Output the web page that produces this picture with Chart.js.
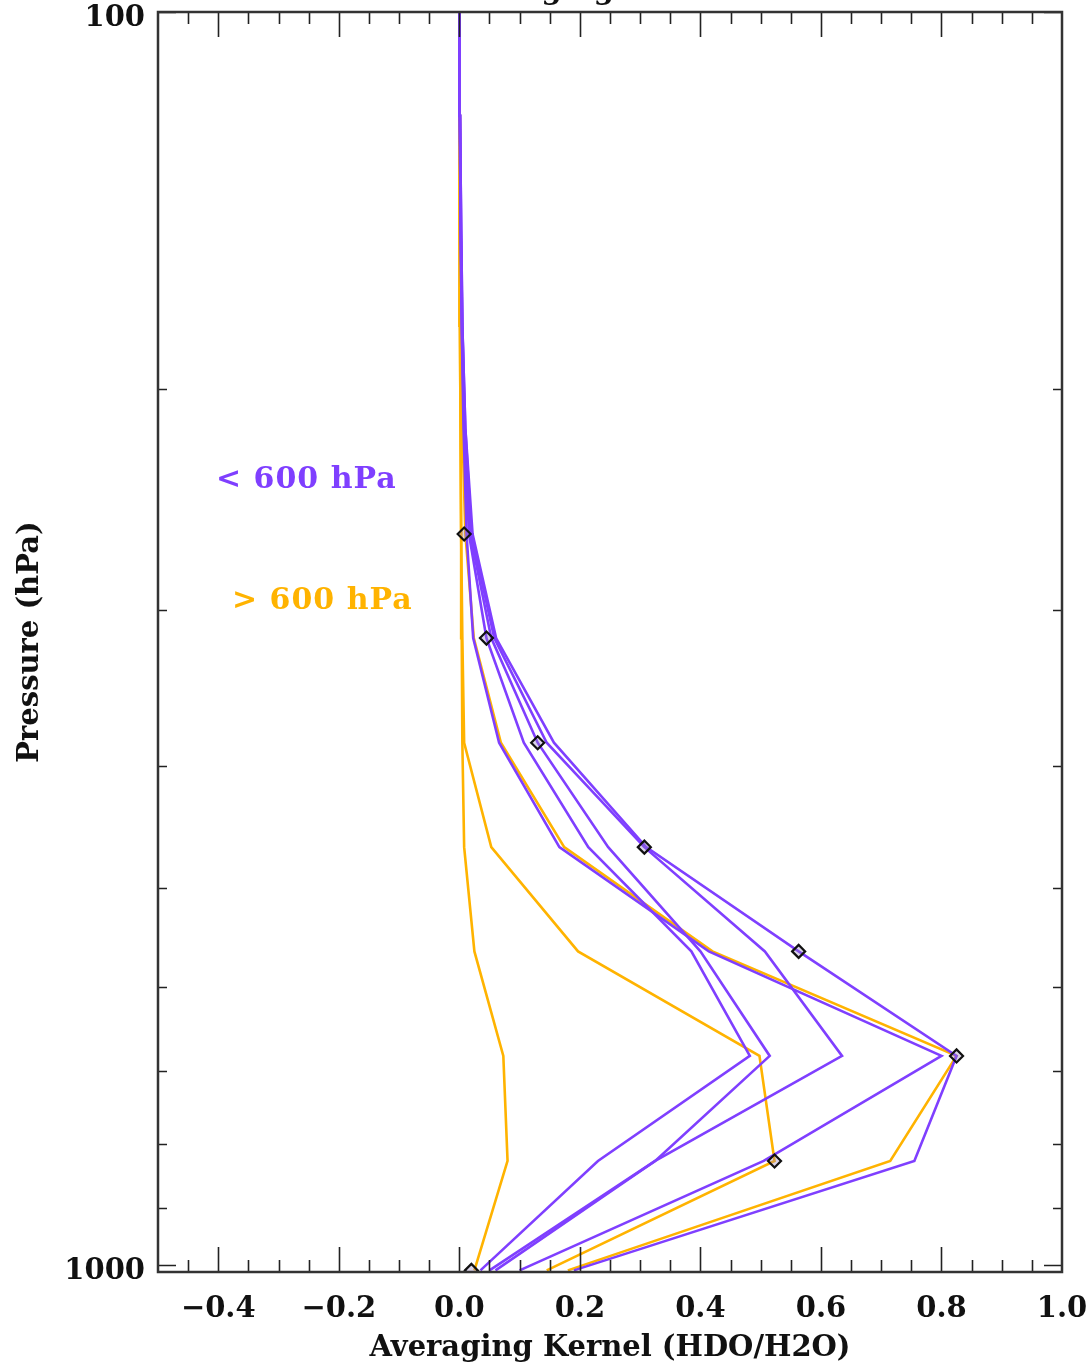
<!DOCTYPE html>
<html>
<head>
<meta charset="utf-8">
<script src="https://cdn.jsdelivr.net/npm/chart.js@4"></script>
<style>
  html, body { margin: 0; padding: 0; background: #fff; }
  canvas { display: block; }
</style>
</head>
<body>
<canvas id="chart" width="1092" height="1371"></canvas>
<script>
// pressure levels of the retrieval grid (hPa), surface first
const levels = [1010, 826, 681, 562, 464, 383, 316, 261, 215, 178, 147, 121, 100];

// kernels for levels above 600 hPa (purple)
const purpleA = [0.100, 0.505, 0.800, 0.414, 0.166, 0.066, 0.023, 0.012, 0.007, 0.004, 0.002, 0.001, 0.0];
const purpleB = [0.035, 0.230, 0.482, 0.385, 0.214, 0.107, 0.045, 0.016, 0.008, 0.004, 0.002, 0.001, 0.0];
const purpleC = [0.050, 0.325, 0.515, 0.400, 0.247, 0.130, 0.053, 0.018, 0.009, 0.005, 0.002, 0.001, 0.0];
const purpleD = [0.060, 0.325, 0.635, 0.507, 0.307, 0.145, 0.058, 0.020, 0.010, 0.005, 0.003, 0.001, 0.0];
const purpleE = [0.190, 0.755, 0.825, 0.563, 0.310, 0.157, 0.061, 0.022, 0.010, 0.005, 0.003, 0.001, 0.0];

// kernels for levels below 600 hPa (orange)
const orangeA = [0.025, 0.080, 0.073, 0.025, 0.008, 0.005, 0.004, 0.003, 0.002, 0.001, 0.001, 0.0, 0.0];
const orangeB = [0.145, 0.523, 0.498, 0.197, 0.053, 0.008, 0.005, 0.003, 0.002, 0.001, 0.001, 0.0, 0.0];
const orangeC = [0.180, 0.715, 0.825, 0.420, 0.174, 0.069, 0.024, 0.010, 0.005, 0.003, 0.002, 0.001, 0.0];

// diagonal elements (diamonds), levels[0..7]
const diagonal = [0.020, 0.523, 0.825, 0.563, 0.307, 0.130, 0.045, 0.008];

const xTickValues = [-0.4, -0.2, 0.0, 0.2, 0.4, 0.6, 0.8, 1.0];
const yTickValues = [100, 200, 300, 400, 500, 600, 700, 800, 900, 1000];
const yLabelValues = [100, 1000];

const PURPLE = '#7f3fff';
const ORANGE = '#ffb300';
const FONT = { family: "'DejaVu Serif', serif", size: 29, weight: 'bold' };

function toPoints(values) {
  return values.map((v, i) => ({ x: v, y: levels[i] }));
}

function kernelSet(values, color, order) {
  return {
    data: toPoints(values),
    showLine: true,
    borderColor: color,
    borderWidth: 2.6,
    pointRadius: 0,
    tension: 0,
    order: order
  };
}

// box, inward ticks, labels inside the plot and the clipped title
const frameTicks = {
  id: 'frameTicks',
  afterDraw(chart) {
    const { ctx, chartArea: a, scales: { x, y } } = chart;
    ctx.save();
    ctx.strokeStyle = '#222';
    ctx.lineWidth = 1.6;
    ctx.beginPath();
    for (let k = -9; k <= 19; k++) {
      const v = k * 0.05;
      const px = Math.round(x.getPixelForValue(v)) + 0.5;
      const len = (k % 4 === 0) ? 25 : 12;
      ctx.moveTo(px, a.bottom); ctx.lineTo(px, a.bottom - len);
      ctx.moveTo(px, a.top); ctx.lineTo(px, a.top + len);
    }
    yTickValues.forEach(v => {
      const py = Math.round(y.getPixelForValue(v)) + 0.5;
      const len = (v === 100 || v === 1000) ? 18 : 9;
      ctx.moveTo(a.left, py); ctx.lineTo(a.left + len, py);
      ctx.moveTo(a.right, py); ctx.lineTo(a.right - len, py);
    });
    ctx.stroke();

    ctx.strokeStyle = '#333';
    ctx.lineWidth = 2.5;
    ctx.strokeRect(a.left, a.top, a.right - a.left, a.bottom - a.top);

    ctx.font = "bold 30px 'DejaVu Serif', serif";
    ctx.letterSpacing = '1px';
    ctx.textBaseline = 'middle';
    ctx.textAlign = 'left';
    ctx.fillStyle = PURPLE;
    ctx.fillText('< 600 hPa', 216, 480);
    ctx.fillStyle = ORANGE;
    ctx.fillText('> 600 hPa', 232, 601);

    ctx.letterSpacing = '0px';
    ctx.font = "bold 29px 'DejaVu Serif', serif";
    ctx.fillStyle = '#111';
    ctx.textAlign = 'center';
    ctx.textBaseline = 'alphabetic';
    ctx.fillText('Averaging Kernels', 600, -1);
    ctx.restore();
  }
};

new Chart(document.getElementById('chart'), {
  type: 'scatter',
  data: {
    datasets: [
      {
        data: toPoints(diagonal),
        pointStyle: 'rectRot',
        pointRadius: 6.5,
        pointBorderWidth: 2.2,
        pointBorderColor: '#111',
        pointBackgroundColor: 'rgba(150,130,190,0.35)',
        showLine: false,
        order: 0
      },
      kernelSet(purpleA, PURPLE, 1),
      kernelSet(purpleB, PURPLE, 1),
      kernelSet(purpleC, PURPLE, 1),
      kernelSet(purpleD, PURPLE, 1),
      kernelSet(purpleE, PURPLE, 1),
      kernelSet(orangeA, ORANGE, 2),
      kernelSet(orangeB, ORANGE, 2),
      kernelSet(orangeC, ORANGE, 2)
    ]
  },
  options: {
    responsive: false,
    animation: false,
    devicePixelRatio: 1,
    layout: { padding: { top: 12, right: 30, left: 0, bottom: 0 } },
    plugins: { legend: { display: false }, tooltip: { enabled: false } },
    scales: {
      x: {
        type: 'linear',
        min: -0.5,
        max: 1.0,
        grid: { display: false, drawTicks: false },
        border: { display: false },
        afterBuildTicks: s => { s.ticks = xTickValues.map(v => ({ value: v })); },
        afterFit: s => { s.height = 99; s.paddingLeft = 0; s.paddingRight = 0; },
        ticks: {
          autoSkip: false,
          maxRotation: 0,
          padding: 20,
          color: '#111',
          font: FONT,
          callback: v => v.toFixed(1).replace('-', '\u2212')
        },
        title: {
          display: true,
          text: 'Averaging Kernel (HDO/H2O)',
          color: '#111',
          font: FONT,
          padding: { top: 0, bottom: 5 }
        }
      },
      y: {
        type: 'logarithmic',
        reverse: true,
        min: 100,
        max: 1013,
        grid: { display: false, drawTicks: false },
        border: { display: false },
        afterBuildTicks: s => { s.ticks = yLabelValues.map(v => ({ value: v })); },
        afterFit: s => { s.width = 158; s.paddingTop = 0; s.paddingBottom = 0; },
        ticks: {
          autoSkip: false,
          padding: 13,
          labelOffset: 6,
          color: '#111',
          font: FONT,
          callback: v => String(v)
        },
        title: {
          display: true,
          text: 'Pressure (hPa)',
          color: '#111',
          font: FONT,
          padding: { top: 13, bottom: 0 }
        }
      }
    }
  },
  plugins: [frameTicks]
});
</script>
</body>
</html>
